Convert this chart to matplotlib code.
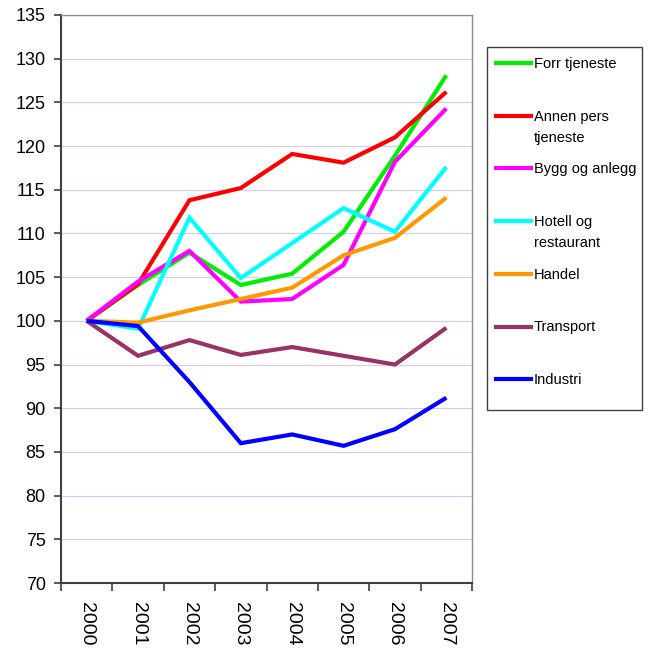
import matplotlib
matplotlib.use('Agg')
from matplotlib import pyplot as plt
from matplotlib.lines import Line2D
from matplotlib.patches import Rectangle

plt.rcParams['font.family'] = ['Liberation Sans', 'DejaVu Sans']

years = ['2000', '2001', '2002', '2003', '2004', '2005', '2006', '2007']

forr_tjeneste = [100, 104.1, 107.8, 104.1, 105.4, 110.2, 118.9, 128.1]
annen_pers = [100, 104.2, 113.8, 115.2, 119.1, 118.1, 121.0, 126.2]
bygg_anlegg = [100, 104.5, 108.0, 102.2, 102.5, 106.4, 118.2, 124.3]
hotell_rest = [100, 99.1, 111.8, 104.9, 108.9, 112.9, 110.2, 117.6]
handel = [100, 99.8, 101.2, 102.5, 103.8, 107.5, 109.5, 114.1]
transport = [100, 96.0, 97.8, 96.1, 97.0, 96.0, 95.0, 99.2]
industri = [100, 99.4, 93.0, 86.0, 87.0, 85.7, 87.6, 91.2]

labels = ['Forr tjeneste', 'Annen pers\ntjeneste', 'Bygg og anlegg',
          'Hotell og\nrestaurant', 'Handel', 'Transport', 'Industri']
series = [forr_tjeneste, annen_pers, bygg_anlegg, hotell_rest, handel,
          transport, industri]
colors = ['#00ee00', '#ff0000', '#ff00ff', '#00ffff', '#ff9900',
          '#993366', '#0000ff']

fig = plt.figure(figsize=(6.49, 6.50), dpi=100)
ax = fig.add_axes([61 / 649, 1 - 583 / 650, 411 / 649, 568 / 650])

x = list(range(len(years)))
for vals, col in zip(series, colors):
    ax.plot(x, vals, color=col, lw=3, solid_joinstyle='miter',
            solid_capstyle='butt')

ax.set_xlim(-0.5, 7.5)
ax.set_ylim(70, 135)
ax.set_yticks(range(70, 136, 5))
ax.tick_params(axis='y', labelsize=13, length=5, width=1.2,
               color='#404040', pad=6)
ax.set_xticks([i + 0.5 for i in range(-1, 8)], minor=False)
ax.set_xticklabels([])
ax.set_xticks(x, minor=True)
ax.set_xticklabels(years, minor=True, rotation=-90, fontsize=14)
ax.tick_params(axis='x', which='major', length=6, width=1.2,
               color='#404040')
ax.tick_params(axis='x', which='minor', length=0, pad=14)

ax.grid(axis='y', color='#ccccff', lw=0.8)
ax.set_axisbelow(True)
for side in ['left', 'bottom']:
    ax.spines[side].set_color('#404040')
    ax.spines[side].set_linewidth(1.5)
for side in ['top', 'right']:
    ax.spines[side].set_color('#8c8c8c')
    ax.spines[side].set_linewidth(1.0)

# legend box drawn by hand to match Excel layout
fig.patches.append(Rectangle((487 / 649, 1 - 410 / 650), 155 / 649,
                             363 / 650, transform=fig.transFigure,
                             fill=False, ec='#404040', lw=1.0))
y0 = 63
for i, (lab, col) in enumerate(zip(labels, colors)):
    ypx = y0 + i * 52.7
    yy = 1 - ypx / 650
    fig.lines.append(Line2D([496 / 649, 531 / 649], [yy, yy],
                            transform=fig.transFigure, color=col, lw=3))
    for k, part in enumerate(lab.split('\n')):
        fig.text(534 / 649, 1 - (ypx + 5 + 21 * k) / 650, part,
                 fontsize=10.5, va='baseline', ha='left')

fig.savefig('out.png', dpi=100)
